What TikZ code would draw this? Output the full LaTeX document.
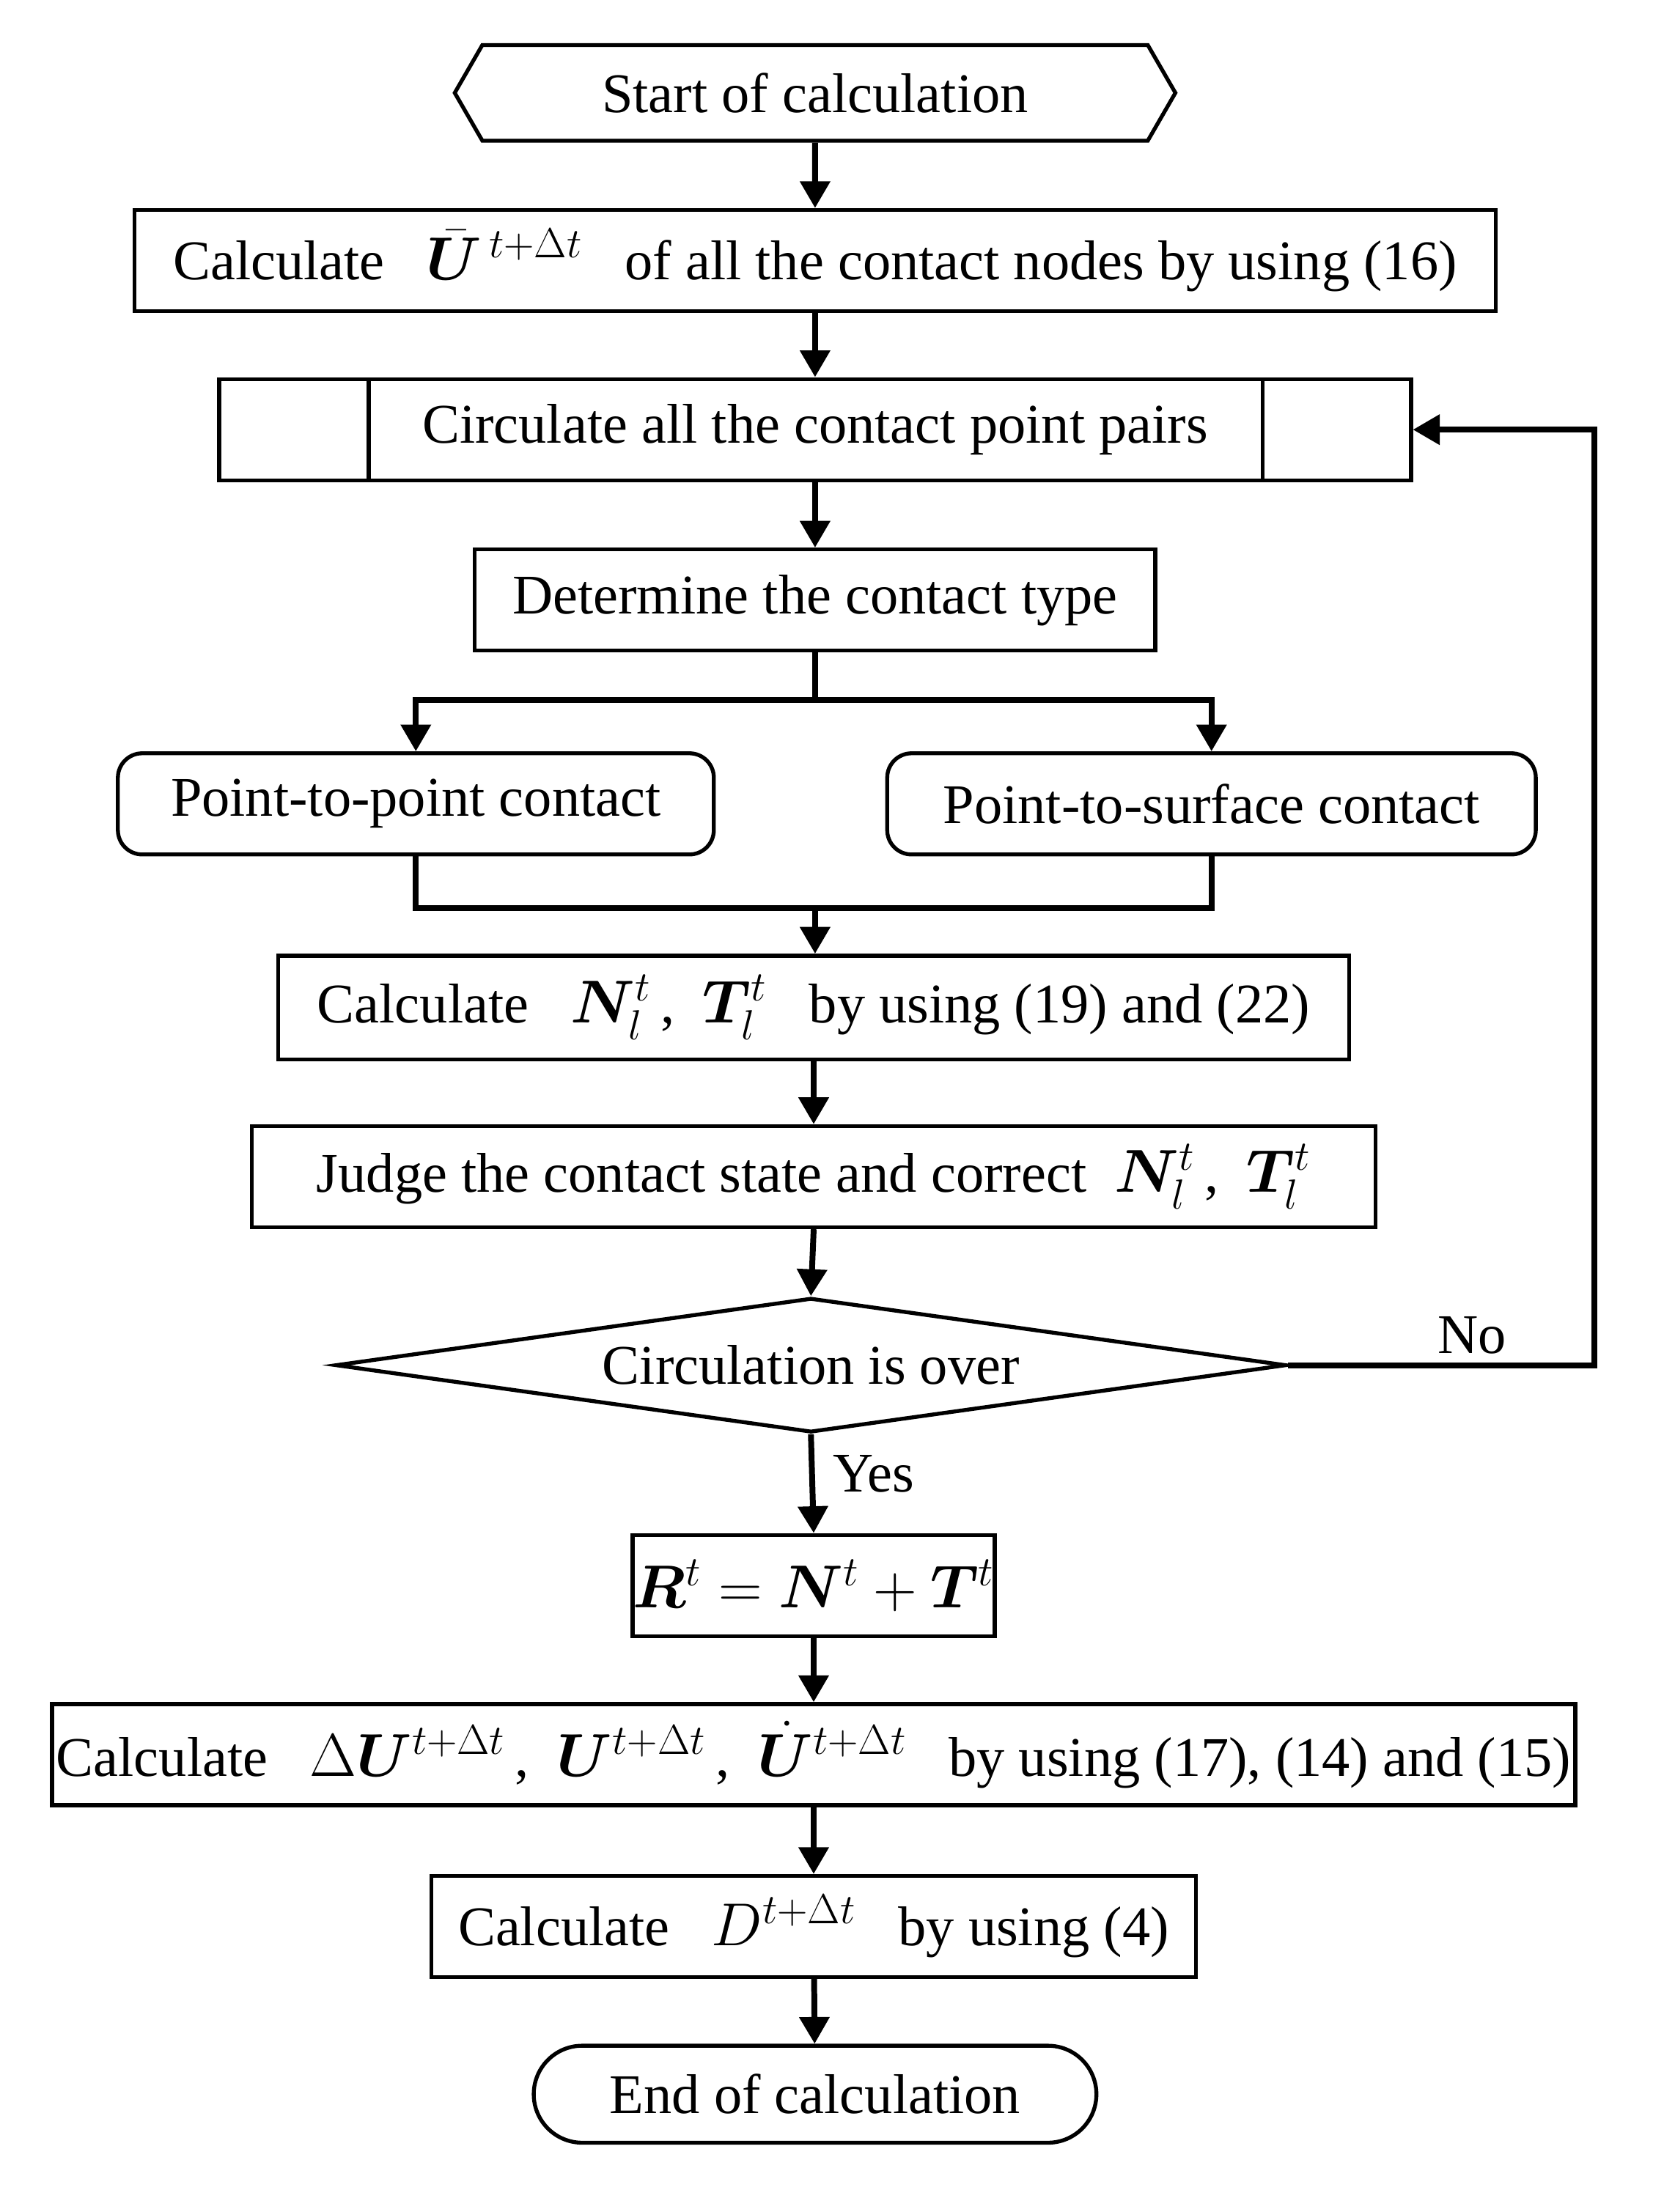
\documentclass[tikz,border=0pt]{standalone}
\usepackage{amsmath,bm}
\usepackage{fontspec}
\setmainfont{Liberation Serif}
\usetikzlibrary{shapes.geometric,shapes.symbols,shapes.misc,arrows.meta}
\begin{document}
\begin{tikzpicture}[x=0.02cm,y=-0.02cm,
 every node/.style={font=\fontsize{23}{27}\selectfont},
 box/.style={draw,line width=1.6pt,minimum height=1.46cm,inner sep=0pt},
 arr/.style={line width=2.4pt,-{Triangle[length=11pt,width=12pt]}},
 ln/.style={line width=2.4pt}]
\useasboundingbox (0,0) rectangle (1200,1596);
\node[draw,line width=1.6pt,signal,signal to=east and west,signal pointer angle=120,minimum width=10.4cm,minimum height=1.38cm,inner sep=0pt] (s) at (588,67) {Start of calculation};
\node[box,minimum width=19.64cm] (b1) at (588,188) {Calculate \ \ $\bar{\bm U}^{\,t+\Delta t}$ \ \ of all the contact nodes by using (16)};
\node[box,minimum width=17.2cm] (b2) at (588,310) {Circulate all the contact point pairs};
\draw[line width=1.6pt] (266,273) -- (266,347) (911,273) -- (911,347);
\node[box,minimum width=9.82cm] (b3) at (588,433) {Determine the contact type};
\node[box,rounded corners=10pt,minimum width=8.6cm] (p1) at (300,580) {Point-to-point contact};
\node[box,rounded corners=10pt,minimum width=9.36cm] (p2) at (874,580) {Point-to-surface contact};
\node[box,minimum width=15.46cm,minimum height=1.5cm] (b4) at (587,727) {Calculate \ \ $\bm N_l^t$\,, \ $\bm T_l^t$ \ \ by using (19) and (22)};
\node[box,minimum width=16.22cm] (b5) at (587,849) {Judge the contact state and correct \ $\bm N_l^t$\,, \ $\bm T_l^t$};
\node[draw,line width=1.6pt,diamond,aspect=7.07,minimum width=13.72cm,minimum height=1.94cm,inner sep=0pt] (d) at (585,985) {Circulation is over};
\node[box,minimum width=4.88cm] (r) at (587,1144) {$\bm R^t=\bm N^t+\bm T^t$};
\node[box,minimum width=21.98cm] (b6) at (587,1266) {Calculate \ \ $\Delta\bm U^{t+\Delta t}$\,, \ $\bm U^{t+\Delta t}$\,, \ $\dot{\bm U}^{t+\Delta t}$ \ \ by using (17), (14) and (15)};
\node[box,minimum width=11.04cm] (b7) at (587,1390) {Calculate \ \ $D^{t+\Delta t}$ \ \ by using (4)};
\node[draw,line width=1.6pt,rounded rectangle,minimum width=8.12cm,minimum height=1.4cm,inner sep=0pt] (e) at (588,1511) {End of calculation};
\draw[arr] (s) -- (b1);
\draw[arr] (b1) -- (b2);
\draw[arr] (b2) -- (b3);
\coordinate (sp) at (588,505);
\draw[ln] (b3.south) -- (sp);
\draw[arr] (sp) -| (p1.north);
\draw[arr] (sp) -| (p2.north);
\coordinate (mg) at (588,655);
\draw[ln] (p1.south) |- (mg) -| (p2.south);
\draw[arr] (mg) -- (b4.north -| mg);
\draw[arr] (b4) -- (b5);
\draw[arr] (b5.south) -- (d.north);
\draw[arr] (d.south) -- node[right=4pt,pos=0.4]{Yes} (r.north);
\coordinate (c1) at (1150,985);
\draw[arr] (d.east) -- node[above,pos=0.6]{No} (c1) |- (b2.east);
\draw[arr] (r) -- (b6);
\draw[arr] (b6) -- (b7);
\draw[arr] (b7) -- (e);
\end{tikzpicture}
\end{document}
